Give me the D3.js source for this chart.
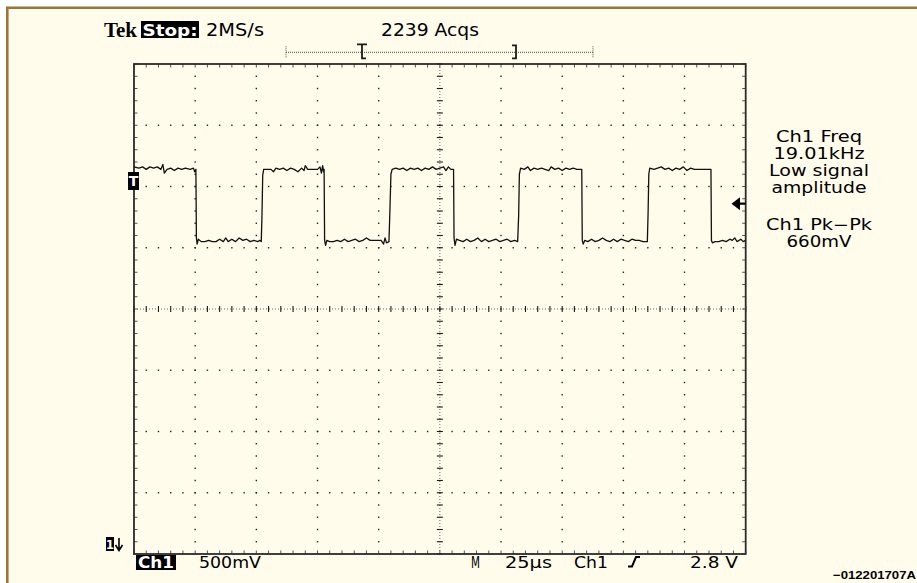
<!DOCTYPE html>
<html>
<head>
<meta charset="utf-8">
<script src="https://cdn.jsdelivr.net/npm/d3@7"></script>
<style>
  body { margin: 0; background: #fff; }
  svg { display: block; }
  text { font-family: "DejaVu Sans", Verdana, sans-serif; }
</style>
</head>
<body>
<div id="scope"></div>
<script>
// scope settings
var timePerDiv = 25;      // µs
var voltsPerDiv = 0.5;    // V
var timeDomain = [0, 250];        // µs across 10 div
var voltDomain = [-0.06, 3.94];   // V across 8 div (ground just above bottom edge)
var triggerLevel = 2.8;

var headerLabels = ["Tek", "Stop:", "2MS/s", "2239 Acqs"];
var footerLabels = ["Ch1", "500mV", "M", "25µs", "Ch1", "2.8 V"];
var measureLabels = ["Ch1 Freq", "19.01kHz", "Low signal", "amplitude", "", "Ch1 Pk\u2212Pk", "660mV"];
var figureId = "\u2212012201707A";

// Ch1 trace, [time µs, volts]
var trace = [
  [0,3.10],[2,3.09],[3.5,3.10],[5,3.08],[6.5,3.10],[8,3.09],[9.5,3.10],[11,3.08],[11.8,3.12],[12.4,3.05],
  [13.5,3.08],[15,3.09],[16.5,3.07],[18,3.09],[19.5,3.08],[21,3.09],[23,3.08],[24.3,3.09],[24.8,3.06],[25.3,3.08],
  [25.5,2.52],[25.8,2.47],[26.3,2.51],
  [27.5,2.49],[29,2.49],[30.5,2.50],[32,2.49],[33.5,2.49],[35,2.51],[36.5,2.49],[37.5,2.52],[38.5,2.49],[40,2.51],
  [41.5,2.49],[43,2.52],[44.5,2.50],[46,2.51],[47.5,2.49],[49,2.50],[50.5,2.49],[51.5,2.50],[52.0,2.49],
  [52.3,2.70],[52.6,3.03],[53,3.08],
  [54.5,3.08],[56,3.08],[57,3.06],[58,3.09],[59.5,3.08],[61,3.09],[62.5,3.07],[64,3.09],[65.5,3.08],[67,3.06],
  [68.5,3.09],[69.5,3.07],[70,3.11],[71,3.08],[73,3.08],[75,3.08],[76,3.10],[76.6,3.05],[77.1,3.11],[77.5,3.06],[77.7,3.08],
  [77.9,2.50],[78.3,2.46],[78.8,2.50],
  [80,2.49],[81.5,2.49],[83,2.50],[84.5,2.49],[86,2.51],[87.5,2.49],[89,2.50],[90.5,2.51],[92,2.49],[93.5,2.50],
  [95,2.52],[96.5,2.50],[98,2.50],[99.5,2.50],[101,2.50],[102,2.47],[102.6,2.52],[103.2,2.48],[104.2,2.49],
  [104.6,2.75],[105.0,3.04],[105.5,3.08],
  [107,3.09],[108.5,3.08],[110,3.09],[111.5,3.07],[113,3.09],[114.5,3.08],[116,3.09],[117.5,3.07],[119,3.09],
  [120.5,3.08],[122,3.10],[123.5,3.08],[125,3.09],[126.5,3.10],[127.5,3.07],[128.5,3.10],[129.5,3.08],[130.6,3.08],
  [130.8,2.52],[131.2,2.46],[131.8,2.51],
  [133,2.50],[134.5,2.49],[136,2.51],[137.5,2.49],[139,2.50],[140.5,2.52],[142,2.49],[143.5,2.51],[145,2.49],
  [146.5,2.50],[148,2.51],[149.5,2.49],[151,2.50],[152.5,2.51],[154,2.49],[155.5,2.50],[156.8,2.49],
  [157.2,2.70],[157.5,3.04],[158,3.09],
  [159.5,3.08],[161,3.10],[162,3.07],[163.5,3.09],[165,3.08],[166.5,3.09],[168,3.08],[169.5,3.07],[170.5,3.10],
  [172,3.08],[173.5,3.09],[175,3.07],[176.5,3.09],[178,3.08],[179.5,3.09],[181,3.08],[183,3.08],
  [183.2,2.50],[183.6,2.47],[184.2,2.50],
  [185.5,2.49],[187,2.51],[188.5,2.49],[190,2.50],[191.5,2.52],[193,2.50],[194.5,2.49],[196,2.51],[197.5,2.49],
  [199,2.51],[200.5,2.50],[202,2.49],[203.5,2.51],[205,2.50],[206.5,2.50],[208,2.49],[209.8,2.49],
  [210.1,2.72],[210.4,3.04],[210.8,3.09],
  [212.5,3.08],[214,3.09],[215.5,3.10],[217,3.08],[218.5,3.09],[220,3.07],[221.5,3.09],[223,3.08],[224.5,3.10],
  [226,3.07],[227.5,3.09],[229,3.08],[230.5,3.08],[232,3.08],[233.5,3.08],[235.8,3.08],
  [236.0,2.50],[236.4,2.48],
  [237.5,2.49],[239,2.49],[240.5,2.50],[242,2.49],[243.5,2.51],[244.5,2.50],[245.5,2.52],[246.5,2.49],[248,2.51],
  [249,2.49],[250,2.50]
];

var width = 917, height = 583;
var plotL = 134, plotR = 745.7, plotT = 64, plotB = 554;
var ink = "#1a1a1a";

var x = d3.scaleLinear().domain(timeDomain).range([plotL, plotR]);
var y = d3.scaleLinear().domain(voltDomain).range([plotB, plotT]);
// graticule in divisions
var gx = d3.scaleLinear().domain([0, 10]).range([plotL, plotR]);
var gy = d3.scaleLinear().domain([0, 8]).range([plotB, plotT]);

var svg = d3.select("#scope").append("svg")
    .attr("width", width)
    .attr("height", height)
    .attr("viewBox", [0, 0, width, height]);

// paper + brown rule on top / left
svg.append("rect").attr("width", width).attr("height", height).attr("fill", "#fff");
svg.append("rect").attr("x", 6).attr("y", 6.5).attr("width", width - 6).attr("height", height - 6.5)
    .attr("fill", "#fffcec");
svg.append("path").attr("d", "M7.3," + height + "V7.8H" + width)
    .attr("fill", "none").attr("stroke", "#9d7436").attr("stroke-width", 2.6);

var grid = svg.append("g");
var xMinor = d3.range(0, 51).map(function (i) { return i / 5; });
var yMinor = d3.range(0, 41).map(function (i) { return i / 5; });

// dotted major lines
[1, 2, 3, 4, 6, 7, 8, 9].forEach(function (k) {
    grid.selectAll(null).data(yMinor.slice(1, -1)).enter().append("rect")
        .attr("x", gx(k) - 0.7).attr("y", function (d) { return gy(d) - 0.7; })
        .attr("width", 1.4).attr("height", 1.4).attr("fill", "#222");
});
[1, 2, 3, 5, 6, 7].forEach(function (k) {
    grid.selectAll(null).data(xMinor.slice(1, -1)).enter().append("rect")
        .attr("x", function (d) { return gx(d) - 0.7; }).attr("y", gy(k) - 0.7)
        .attr("width", 1.4).attr("height", 1.4).attr("fill", "#222");
});

// centre cross
grid.append("line").attr("x1", gx(0)).attr("x2", gx(10)).attr("y1", gy(4)).attr("y2", gy(4))
    .attr("stroke", "#666").attr("stroke-dasharray", "1 2");
grid.append("line").attr("x1", gx(5)).attr("x2", gx(5)).attr("y1", gy(0)).attr("y2", gy(8))
    .attr("stroke", "#666").attr("stroke-dasharray", "1 2");
grid.selectAll(null).data(xMinor).enter().append("line")
    .attr("x1", function (d) { return gx(d); }).attr("x2", function (d) { return gx(d); })
    .attr("y1", gy(4) - 3).attr("y2", gy(4) + 3)
    .attr("stroke", ink).attr("stroke-width", 1.1);
grid.selectAll(null).data(yMinor).enter().append("line")
    .attr("y1", function (d) { return gy(d); }).attr("y2", function (d) { return gy(d); })
    .attr("x1", gx(5) - 3).attr("x2", gx(5) + 3)
    .attr("stroke", ink).attr("stroke-width", 1.1);

// frame ticks
grid.selectAll(null).data(xMinor).enter().append("path")
    .attr("d", function (d) {
        return "M" + gx(d) + "," + plotT + "v3.5M" + gx(d) + "," + plotB + "v-3.5";
    })
    .attr("stroke", "#555").attr("stroke-width", 1);
grid.selectAll(null).data(yMinor).enter().append("path")
    .attr("d", function (d) {
        return "M" + plotL + "," + gy(d) + "h3.5M" + plotR + "," + gy(d) + "h-3.5";
    })
    .attr("stroke", "#555").attr("stroke-width", 1);

grid.append("rect").attr("x", plotL).attr("y", plotT)
    .attr("width", plotR - plotL).attr("height", plotB - plotT)
    .attr("fill", "none").attr("stroke", "#2b2b2b").attr("stroke-width", 1.8);

// trace
var line = d3.line().x(function (d) { return x(d[0]); }).y(function (d) { return y(d[1]); });
svg.append("path").datum(trace)
    .attr("d", line)
    .attr("fill", "none").attr("stroke", "#111").attr("stroke-width", 1.3)
    .attr("stroke-linejoin", "round");

// header
var head = svg.append("g");
head.append("text").attr("x", 104).attr("y", 36.5).text(headerLabels[0])
    .style("font-family", "'Liberation Serif', serif").attr("font-weight", "bold")
    .attr("font-size", 21).attr("textLength", 33).attr("lengthAdjust", "spacingAndGlyphs");
head.append("rect").attr("x", 141).attr("y", 21).attr("width", 58).attr("height", 17).attr("fill", "#000");
head.append("text").attr("x", 142.5).attr("y", 35.5).text(headerLabels[1])
    .attr("fill", "#fff").attr("font-weight", "bold").attr("font-size", 16)
    .attr("textLength", 55).attr("lengthAdjust", "spacingAndGlyphs");
head.append("text").attr("x", 206).attr("y", 35.5).text(headerLabels[2])
    .attr("font-size", 17).attr("textLength", 58).attr("lengthAdjust", "spacingAndGlyphs");
head.append("text").attr("x", 381).attr("y", 35.5).text(headerLabels[3])
    .attr("font-size", 17).attr("textLength", 98).attr("lengthAdjust", "spacingAndGlyphs");

// record window bracket
var bx0 = 286, bx1 = 593, by = 52.3;
head.append("line").attr("x1", bx0).attr("x2", bx1).attr("y1", by).attr("y2", by)
    .attr("stroke", "#444").attr("stroke-dasharray", "1 1");
[bx0, bx1].forEach(function (bx) {
    head.append("line").attr("x1", bx).attr("x2", bx).attr("y1", by - 6).attr("y2", by + 6)
        .attr("stroke", "#555").attr("stroke-dasharray", "1 1");
});
head.append("path").attr("d", "M357," + (by - 8) + "h10M362," + (by - 8) + "v14h4")
    .attr("fill", "none").attr("stroke", ink).attr("stroke-width", 1.8);
head.append("path").attr("d", "M512," + (by - 7) + "h4v13h-4")
    .attr("fill", "none").attr("stroke", ink).attr("stroke-width", 1.8);

// trigger markers
svg.append("rect").attr("x", 128).attr("y", 172).attr("width", 11).attr("height", 18).attr("fill", "#000");
svg.append("text").attr("x", 133.5).attr("y", 186).attr("text-anchor", "middle").text("T")
    .attr("fill", "#fff").attr("font-weight", "bold").attr("font-size", 14);
var ty = y(triggerLevel);
svg.append("path").attr("d", "M731.5," + ty + "L740," + (ty - 6.5) + "V" + (ty + 6.5) + "Z")
    .attr("fill", "#000");
svg.append("line").attr("x1", 739).attr("x2", plotR).attr("y1", ty).attr("y2", ty)
    .attr("stroke", "#000").attr("stroke-width", 2.2);

// ground marker (below screen)
svg.append("rect").attr("x", 106).attr("y", 537).attr("width", 8).attr("height", 14).attr("fill", "#000");
svg.append("text").attr("x", 110).attr("y", 549).attr("text-anchor", "middle").text("1")
    .attr("fill", "#fff").attr("font-weight", "bold").attr("font-size", 12);
svg.append("path").attr("d", "M119,538V549M115.5,545L119,550.5L122.5,545")
    .attr("fill", "none").attr("stroke", "#000").attr("stroke-width", 1.6);

// footer readouts
var foot = svg.append("g");
foot.append("rect").attr("x", 136).attr("y", 555).attr("width", 40).attr("height", 15).attr("fill", "#000");
foot.append("text").attr("x", 138).attr("y", 567.5).text(footerLabels[0])
    .attr("fill", "#fff").attr("font-weight", "bold").attr("font-size", 15)
    .attr("textLength", 36).attr("lengthAdjust", "spacingAndGlyphs");
var footSpots = [[199, 62], [471, 9], [505, 47], [574, 34], [690, 48]];
[1, 2, 3, 4, 5].forEach(function (k, i) {
    foot.append("text").attr("x", footSpots[i][0]).attr("y", 567.5).text(footerLabels[k])
        .attr("font-size", 15).attr("textLength", footSpots[i][1])
        .attr("lengthAdjust", "spacingAndGlyphs");
});
// rising-slope symbol
foot.append("path").attr("d", "M628,566.5H632L636,557H640")
    .attr("fill", "none").attr("stroke", "#000").attr("stroke-width", 2);

// measurement readouts
var meas = svg.append("g");
var mBase = [142, 159, 176, 193, 0, 230, 247];
var mLen = [86, 91, 100, 95, 0, 106, 65];
measureLabels.forEach(function (s, i) {
    if (!s) return;
    meas.append("text").attr("x", 819).attr("y", mBase[i]).text(s)
        .attr("text-anchor", "middle").attr("font-size", 15.5)
        .attr("textLength", mLen[i]).attr("lengthAdjust", "spacingAndGlyphs");
});

svg.append("text").attr("x", 916).attr("y", 579).attr("text-anchor", "end").text(figureId)
    .style("font-family", "'Liberation Sans', Arial, sans-serif").attr("font-weight", "bold")
    .attr("font-size", 11.5).attr("textLength", 83).attr("lengthAdjust", "spacingAndGlyphs");
</script>
</body>
</html>
